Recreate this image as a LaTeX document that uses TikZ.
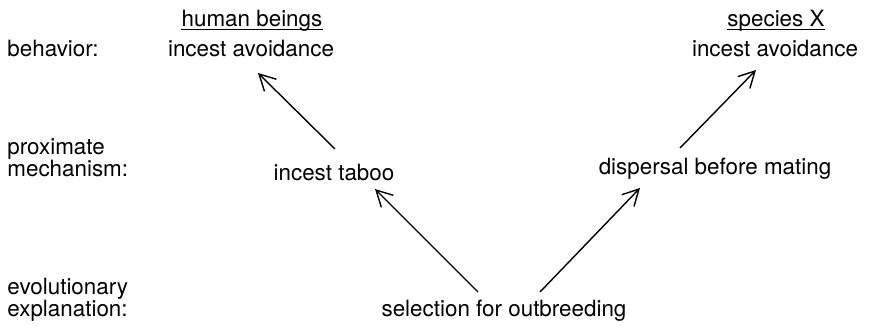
\documentclass[tikz,border=0pt]{standalone}
\usepackage{fontspec}
\setmainfont{TeX Gyre Heros}
\usetikzlibrary{arrows.meta}

\begin{document}
\begin{tikzpicture}[x=0.5pt,y=-0.5pt,
                    >={Straight Barb[length=8pt,width=8.5pt]},
                    link/.style={->,line width=0.7pt},
                    lbl/.style={anchor=base west,align=left},
                    txt/.style={anchor=base}]
                    \tikzstyle{every node}+=[inner sep=0pt,font=\fontsize{11.2}{11}\selectfont]
                    \useasboundingbox (0,0) rectangle (869,326);
                    \node [lbl] (behav) at (7,57) {behavior:};
                    \node [lbl] (prox) at (7,177) {proximate\\mechanism:};
                    \node [lbl] (evol) at (7,317) {evolutionary\\explanation:};
                    \node [txt] (human) at (252,27) {human beings};
                    \draw [line width=0.5pt] ([yshift=-1.3pt]human.base west) -- ([yshift=-1.3pt]human.base east);
                    \node [txt] (avoidL) at (251,57) {incest avoidance};
                    \node [txt] (specX) at (776,27) {species X};
                    \draw [line width=0.5pt] ([yshift=-1.3pt]specX.base west) -- ([yshift=-1.3pt]specX.base east);
                    \node [txt] (avoidR) at (775,57) {incest avoidance};
                    \node [txt] (taboo) at (334,181) {incest taboo};
                    \node [txt] (disp) at (715,175) {dispersal before mating};
                    \node [txt] (sel) at (504,317) {selection for outbreeding};
                    \draw [link] ([xshift=0.5pt,yshift=16pt]taboo.base) -- ([xshift=3.5pt,yshift=-8pt]avoidL.base);
                    \draw [link] ([xshift=-17.5pt,yshift=13.5pt]disp.base) -- ([xshift=-9.5pt,yshift=-6.5pt]avoidR.base);
                    \draw [link] ([xshift=-13pt,yshift=12.5pt]sel.base) -- ([xshift=20.5pt,yshift=-4pt]taboo.base);
                    \draw [link] ([xshift=18pt,yshift=12.5pt]sel.base) -- ([xshift=-37.5pt,yshift=-6.5pt]disp.base);
                \end{tikzpicture}
\end{document}
